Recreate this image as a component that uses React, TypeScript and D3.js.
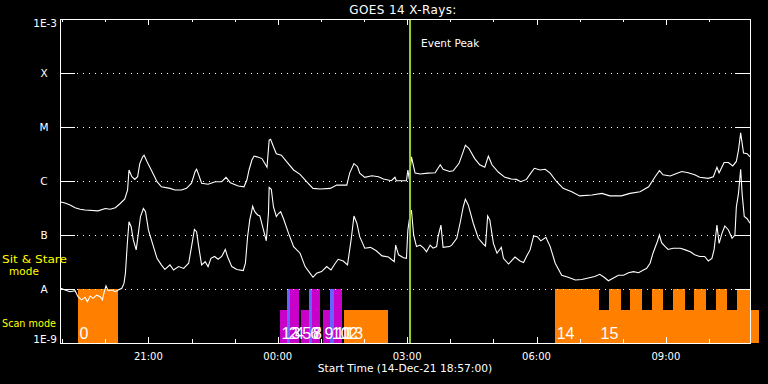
import React from "react";
import * as d3 from "d3";

// ---- Data (minutes after start time 14-Dec-21 18:57:00 UTC, flux W/m^2) ----
const startTime = new Date(Date.UTC(2021, 11, 14, 18, 57, 0));
const windowMinutes = 960;

const longChannel: [number, number][] = [
  [1,4.1e-7],[7,3.9e-7],[14,3.6e-7],[21,3.2e-7],[28,3.0e-7],[35,2.9e-7],[53,2.8e-7],[63,3.1e-7],[70,3.0e-7],[77,3.2e-7],
  [83,3.75e-7],[90,4.6e-7],[94,6.8e-7],[96,1.6e-6],[100,1.2e-6],[104,1.07e-6],[108,1.2e-6],[111,2.1e-6],[115,2.8e-6],[117,3.0e-6],
  [121,2.3e-6],[128,1.5e-6],[135,9.7e-7],[141,7.8e-7],[153,7.3e-7],[160,6.8e-7],[169,6.8e-7],[176,7.3e-7],[183,9.1e-7],[188,1.5e-6],
  [190,1.65e-6],[193,1.3e-6],[197,9.1e-7],[206,8.7e-7],[216,9.7e-7],[225,9.7e-7],[231,1.17e-6],[237,9.3e-7],[248,8.1e-7],[256,7.8e-7],
  [260,1.04e-6],[263,1.6e-6],[267,2.45e-6],[270,2.9e-6],[274,2.8e-6],[281,2.6e-6],[288,1.8e-6],[291,5.7e-6],[293,5.9e-6],[297,4.3e-6],
  [301,3.2e-6],[308,3.0e-6],[315,2.3e-6],[325,1.6e-6],[334,1.33e-6],[343,9.7e-7],[352,7.3e-7],[362,7.1e-7],[376,7.3e-7],[385,8.4e-7],
  [399,8.4e-7],[403,1.4e-6],[409,2.1e-6],[414,1.84e-6],[417,1.4e-6],[424,1.17e-6],[434,1.25e-6],[443,1.2e-6],[450,1.09e-6],[461,1.01e-6],
  [466,1.17e-6],[468,1.01e-6],[482,1.01e-6],[484,1.6e-6],[486,1.07e-6],[489,2.8e-6],[494,1.4e-6],[501,1.35e-6],[512,1.4e-6],[522,1.42e-6],
  [529,2.0e-6],[533,1.65e-6],[542,1.5e-6],[547,1.55e-6],[555,2.1e-6],[561,3.5e-6],[564,4.6e-6],[569,4.0e-6],[577,2.6e-6],[584,2.0e-6],
  [591,1.8e-6],[596,2.9e-6],[601,2.0e-6],[610,1.45e-6],[619,1.17e-6],[628,1.09e-6],[635,1.07e-6],[641,9.7e-7],[649,1.07e-6],[655,1.4e-6],
  [660,1.72e-6],[668,1.6e-6],[675,1.65e-6],[682,1.4e-6],[691,9.7e-7],[700,7.3e-7],[712,6.3e-7],[723,5.3e-7],[740,5.5e-7],[754,5.9e-7],
  [765,5.3e-7],[781,5.3e-7],[793,5.9e-7],[807,6.3e-7],[819,7.8e-7],[828,1.2e-6],[834,1.55e-6],[839,1.3e-6],[849,1.24e-6],[856,1.35e-6],
  [865,1.5e-6],[874,1.42e-6],[883,1.3e-6],[890,1.17e-6],[902,1.12e-6],[909,1.2e-6],[914,1.8e-6],[917,1.42e-6],[924,2.2e-6],[930,2.2e-6],
  [936,1.9e-6],[941,2.3e-6],[944,3.75e-6],[947,7.8e-6],[951,3.3e-6],[956,3.2e-6],[960,2.8e-6],
];

const shortChannel: [number, number][] = [
  [1,1.03e-8],[7,9.6e-9],[14,8.9e-9],[21,9.3e-9],[25,7.2e-9],[30,6.3e-9],[35,7.0e-9],[38,5.8e-9],[42,7.4e-9],[46,6.7e-9],
  [51,7.7e-9],[56,7.2e-9],[59,6.3e-9],[61,8.3e-9],[64,1.14e-8],[67,9.3e-9],[72,9.6e-9],[77,8.9e-9],[81,9.6e-9],[86,1.03e-8],
  [89,1.27e-8],[91,1.95e-8],[94,8.1e-8],[96,1.76e-7],[99,1.42e-7],[102,8.1e-8],[106,5.3e-8],[109,1.07e-7],[112,2.2e-7],[116,3.1e-7],
  [119,2.7e-7],[123,1.24e-7],[130,6.1e-8],[135,3.7e-8],[141,2.8e-8],[146,2.3e-8],[153,2.8e-8],[158,2.25e-8],[165,2.6e-8],[172,2.4e-8],
  [179,3.0e-8],[183,6.1e-8],[187,1.27e-7],[190,1.15e-7],[193,6.1e-8],[197,2.8e-8],[202,3.2e-8],[206,2.6e-8],[210,3.7e-8],[215,4.0e-8],
  [220,3.55e-8],[225,4.0e-8],[230,5.4e-8],[233,4.0e-8],[239,2.6e-8],[246,2.3e-8],[255,2.2e-8],[258,3.0e-8],[261,9.3e-8],[264,1.9e-7],
  [267,2.9e-7],[268,3.4e-7],[271,2.7e-7],[275,2.35e-7],[278,2.25e-7],[282,1.42e-7],[287,7.8e-8],[290,2.5e-7],[291,7.6e-7],[294,7.0e-7],
  [297,3.3e-7],[301,2.2e-7],[304,2.5e-7],[307,2.7e-7],[311,2.0e-7],[318,1.07e-7],[325,6.1e-8],[334,4.6e-8],[341,2.6e-8],[348,1.95e-8],
  [352,1.65e-8],[357,1.95e-8],[364,2.1e-8],[371,2.6e-8],[377,2.25e-8],[383,3.0e-8],[387,3.55e-8],[394,3.3e-8],[400,2.8e-8],[405,8.1e-8],
  [409,2.25e-7],[413,1.65e-7],[417,9.3e-8],[424,5.7e-8],[432,5.9e-8],[440,5.1e-8],[448,4.1e-8],[457,3.9e-8],[465,3.2e-8],[467,6.5e-8],
  [471,4.3e-8],[478,3.8e-8],[482,3.7e-8],[484,1.24e-7],[486,1.9e-7],[489,2.9e-7],[492,1.0e-7],[496,6.1e-8],[501,6.5e-8],[506,5.7e-8],
  [510,4.9e-8],[515,6.5e-8],[519,5.7e-8],[524,6.1e-8],[526,9.3e-8],[530,1.53e-7],[533,5.9e-8],[542,6.1e-8],[545,6.5e-8],[552,8.7e-8],
  [557,1.76e-7],[561,3.3e-7],[564,4.6e-7],[568,3.6e-7],[575,1.65e-7],[582,8.7e-8],[589,6.8e-8],[592,6.25e-8],[595,2.25e-7],[598,1.9e-7],
  [603,7.0e-8],[608,4.6e-8],[614,5.9e-8],[617,3.7e-8],[624,2.9e-8],[633,3.9e-8],[640,3.3e-8],[645,3.1e-8],[649,4.0e-8],[654,5.3e-8],
  [659,9.6e-8],[664,9.3e-8],[669,7.8e-8],[676,9.1e-8],[682,6.1e-8],[689,3.0e-8],[698,1.8e-8],[707,1.65e-8],[717,1.47e-8],[726,1.5e-8],
  [735,1.6e-8],[744,1.7e-8],[751,1.87e-8],[757,1.65e-8],[763,1.42e-8],[770,1.6e-8],[777,1.8e-8],[784,1.8e-8],[791,2.0e-8],[798,2.1e-8],
  [805,2.0e-8],[813,2.3e-8],[816,2.4e-8],[821,3.0e-8],[825,4.6e-8],[831,7.5e-8],[834,1.0e-7],[837,7.2e-8],[842,6.1e-8],[846,5.4e-8],
  [853,5.7e-8],[863,5.7e-8],[870,5.3e-8],[877,4.9e-8],[883,4.3e-8],[890,4.0e-8],[897,4.0e-8],[902,3.3e-8],[907,3.7e-8],[910,5.3e-8],
  [914,1.53e-7],[917,7.0e-8],[921,1.07e-7],[925,1.47e-7],[930,1.24e-7],[935,8.7e-8],[939,1.0e-7],[941,3.3e-7],[944,5.9e-7],[947,1.65e-6],
  [949,5.9e-7],[952,2.2e-7],[956,2.0e-7],[960,1.65e-7],
];

// Observation bars: [startMinute, endMinute, topFlux, mode]
const observationBars: [number, number, number, string][] = [
  [25, 81, 1e-8, "scan"],
  [306, 316, 4.1e-9, "stare"],
  [316, 320, 1e-8, "stareAlt"],
  [320, 332.5, 1e-8, "stare"],
  [335, 346, 4.1e-9, "stare"],
  [346, 350, 1e-8, "stareAlt"],
  [350, 362, 1e-8, "stare"],
  [366, 376, 4.1e-9, "stare"],
  [376, 381, 1e-8, "stareAlt"],
  [381, 392, 1e-8, "stare"],
  [395, 456, 4.1e-9, "scan"],
  [689, 972, 4.1e-9, "scan"],
  [689, 750, 1e-8, "scan"],
  [764, 780, 1e-8, "scan"],
  [793, 810, 1e-8, "scan"],
  [824, 839, 1e-8, "scan"],
  [853, 870, 1e-8, "scan"],
  [882, 899, 1e-8, "scan"],
  [913, 928, 1e-8, "scan"],
  [942, 960, 1e-8, "scan"],
];

const observationLabels: [string, number][] = [
  ["0", 25], ["1", 306], ["2", 316], ["3", 320], ["4", 325], ["5", 335], ["6", 346], ["7", 349],
  ["8", 350], ["9", 366], ["10", 376], ["11", 381], ["12", 388], ["13", 395], ["14", 689], ["15", 750],
];

const eventPeakMinute = 487;
const yTickValues = [1e-3, 1e-4, 1e-5, 1e-6, 1e-7, 1e-8, 1e-9];
const yTickLabels = ["1E-3", "X", "M", "C", "B", "A", "1E-9"];
const gridValues = [1e-4, 1e-5, 1e-6, 1e-7, 1e-8];

const barColors: Record<string, string> = { scan: "#ff8000", stare: "#c800c8", stareAlt: "#6464ff" };

const W = 768, H = 384;
const L = 60, R = 750, T = 19, B = 343;
const FONT = "'DejaVu Sans', sans-serif";

export default function App() {
  const toDate = (m: number) => new Date(startTime.getTime() + m * 60000);
  const x = d3.scaleUtc().domain([startTime, toDate(windowMinutes)]).range([L, R]);
  const y = d3.scaleLog().domain([1e-9, 1e-3]).range([B, T]);

  const line = d3
    .line<[number, number]>()
    .x((d) => x(toDate(d[0])))
    .y((d) => y(d[1]));

  const hourTicks = d3.utcHour.every(1)!.range(startTime, toDate(windowMinutes));
  const fmt = d3.utcFormat("%H:%M");
  const peakX = x(toDate(eventPeakMinute));

  return (
    <svg width={W} height={H} style={{ position: "absolute", left: 0, top: 0, background: "#000" }}>
      <rect x={0} y={0} width={W} height={H} fill="#000" />

      {/* observation bars */}
      {observationBars.map(([s, e, top, mode], i) => (
        <rect
          key={"b" + i}
          x={x(toDate(s))}
          y={y(top)}
          width={x(toDate(e)) - x(toDate(s))}
          height={B - y(top)}
          fill={barColors[mode]}
          shapeRendering="crispEdges"
        />
      ))}

      {/* grid lines */}
      {gridValues.map((v) => (
        <g key={"g" + v} shapeRendering="crispEdges">
          <line x1={L} x2={L + 15} y1={Math.round(y(v)) + 0.5} y2={Math.round(y(v)) + 0.5} stroke="#fff" />
          <line x1={R - 15} x2={R} y1={Math.round(y(v)) + 0.5} y2={Math.round(y(v)) + 0.5} stroke="#fff" />
          <line x1={L + 17} x2={R - 15} y1={Math.round(y(v)) + 0.5} y2={Math.round(y(v)) + 0.5} stroke="#fff" strokeDasharray="1 5" />
        </g>
      ))}

      {/* observation numbers */}
      {observationLabels.map(([t, m]) => (
        <text key={"l" + t} x={x(toDate(m)) + 1.5} y={339} fill="#fff" fontFamily="'Liberation Sans', sans-serif" fontSize={16}>
          {t}
        </text>
      ))}

      {/* flux curves */}
      <path d={line(longChannel) || ""} fill="none" stroke="#fff" strokeWidth={1.1} />
      <path d={line(shortChannel) || ""} fill="none" stroke="#fff" strokeWidth={1.1} />

      {/* event peak */}
      <line x1={peakX} x2={peakX} y1={T} y2={B} stroke="#9acd32" strokeWidth={2} />
      <text x={peakX + 11} y={47} fill="#fff" fontFamily={FONT} fontSize={10.5}>Event Peak</text>

      {/* frame */}
      <rect x={L + 0.5} y={T + 0.5} width={R - L} height={B - T} fill="none" stroke="#fff" shapeRendering="crispEdges" />

      {/* x ticks */}
      {hourTicks.map((d) => {
        const major = d.getUTCHours() % 3 === 0;
        const xx = Math.round(x(d)) + 0.5;
        return (
          <g key={"t" + d.getTime()} shapeRendering="crispEdges">
            <line x1={xx} x2={xx} y1={B} y2={B - (major ? 6 : 4)} stroke="#fff" />
            <line x1={xx} x2={xx} y1={T} y2={T + (major ? 6 : 3)} stroke="#fff" />
            {major && (
              <text x={x(d)} y={360} textAnchor="middle" fill="#fff" fontFamily={FONT} fontSize={10}>
                {fmt(d)}
              </text>
            )}
          </g>
        );
      })}

      {/* y labels */}
      {yTickValues.map((v, i) => {
        const lab = yTickLabels[i];
        const long = lab.length > 1;
        const yy = y(v) + (i === 0 ? 8 : i === yTickValues.length - 1 ? 0 : 4);
        return (
          <text key={"y" + lab} x={long ? 57 : 44} y={yy} textAnchor={long ? "end" : "middle"} fill="#fff" fontFamily={FONT} fontSize={10.5}>
            {lab}
          </text>
        );
      })}

      {/* mode labels */}
      <text x={2} y={263} fill="#ffff00" fontFamily={FONT} fontSize={10.5} textLength={65} lengthAdjust="spacingAndGlyphs">Sit &amp; Stare</text>
      <text x={24} y={275} textAnchor="middle" fill="#ffff00" fontFamily={FONT} fontSize={10.5}>mode</text>
      <text x={2} y={327} fill="#ffff00" fontFamily={FONT} fontSize={10.5} textLength={54} lengthAdjust="spacingAndGlyphs">Scan mode</text>

      {/* titles */}
      <text x={403} y={14} textAnchor="middle" fill="#fff" fontFamily={FONT} fontSize={12} letterSpacing={0.4}>GOES 14 X-Rays:</text>
      <text x={405} y={372} textAnchor="middle" fill="#fff" fontFamily={FONT} fontSize={10.7}>Start Time (14-Dec-21 18:57:00)</text>
    </svg>
  );
}
